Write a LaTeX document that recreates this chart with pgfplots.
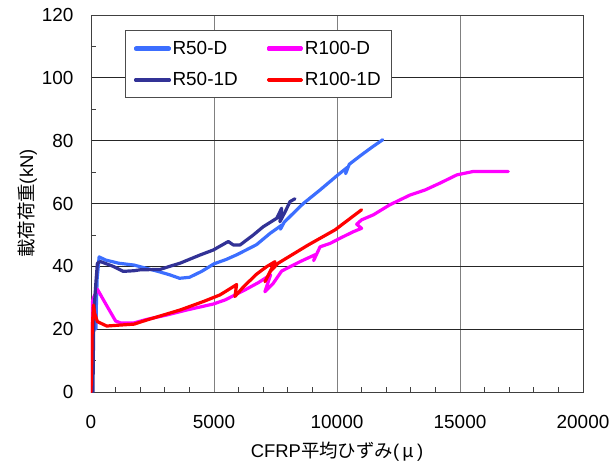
\documentclass[border=0pt]{standalone}
\usepackage{pgfplots}
\pgfplotsset{compat=1.18}
\usepackage{fontspec}
\setmainfont{Liberation Sans}
\newfontfamily\cjk{Noto Sans CJK JP}

\definecolor{rfiftyd}{RGB}{60,110,255}
\definecolor{rfiftyone}{RGB}{50,50,150}
\definecolor{rhundredd}{RGB}{255,0,255}
\definecolor{rhundredone}{RGB}{255,0,0}

\begin{document}
\begin{tikzpicture}
\begin{axis}[
  scale only axis,
  width=492bp, height=377bp,
  xmin=0, xmax=20000,
  ymin=0, ymax=120,
  xtick={0,5000,...,20000},
  ytick={0,20,...,120},
  minor x tick num=4,
  minor y tick num=1,
  tick pos=left,
  tick align=inside,
  major tick length=0pt,
  minor tick length=5bp,
  grid=major,
  x grid style={black!50, line width=0.8bp},
  y grid style={black!85, line width=0.8bp},
  axis line style={black!75, line width=0.8bp},
  minor tick style={black!75, line width=0.7bp},
  /pgf/number format/assume math mode=true,
  scaled x ticks=false,
  xticklabel style={/pgf/number format/1000 sep={}},
  ticklabel style={font=\fontsize{19}{22}\selectfont},
  xticklabel style={yshift=-20bp},
  yticklabel style={xshift=-14bp},
  xlabel={CFRP{\cjk 平均ひずみ}(\,{\cjk μ}\,)},
  ylabel={{\cjk 載荷荷重}(kN)},
  label style={font=\fontsize{18.5}{22}\selectfont},
  xlabel style={yshift=-6bp},
  ylabel style={yshift=-2bp},
  legend columns=2,
  legend cell align=left,
  legend style={at={(0.069,0.960)}, anchor=north west,
    draw=black!70, line width=0.8bp, fill=white,
    font=\fontsize{19}{22}\selectfont,
    inner xsep=9bp, inner ysep=8.5bp,
    row sep=13bp,
    /tikz/every even column/.append style={column sep=27bp}},
  legend image code/.code={%
    \fill[#1] (0bp,-0.7bp) rectangle (33bp,0.7bp);},
]
% R50-D
\addplot[rfiftyd, line width=3.2bp, line join=round, line cap=round] coordinates {
  (200,20) (220,28) (250,36) (330,43) (600,42) (1120,41) (1750,40.4)
  (2720,38.4) (3200,37.3) (3600,36.2) (4000,36.5) (4500,38.4) (5000,40.8)
  (5500,42.2) (5930,43.7) (6730,46.9) (7280,50.5) (7770,53.2) (7700,51.8)
  (7850,54) (8300,57.5) (8630,60) (9310,64.3) (10020,69) (10420,71.5)
  (10350,69.5) (10500,72.5) (11000,75.5) (11400,77.8) (11860,80.3)
};
\addlegendentry{R50-D}
% R100-D
\addplot[rhundredd, line width=3.2bp, line join=round, line cap=round] coordinates {
  (10,0) (20,18.5) (40,28) (100,30) (260,32.7) (660,27.2) (1000,22.6)
  (1200,22) (1750,22) (2260,23.1) (3080,24.5) (3890,26.1) (4970,28)
  (5450,29.3) (6260,32.5) (6800,34.8) (7300,37.3) (7070,31.9) (7400,34.5)
  (7750,38.5) (8500,41.5) (9140,43.8) (9050,41.8) (9310,46.2) (9720,47.3)
  (10190,49.2) (10660,51) (11000,52.1) (10800,53.4) (11000,54.8)
  (11480,56.4) (12150,59.6) (12970,62.7) (13580,64.3) (14190,66.5)
  (14870,69.1) (15540,70.2) (16960,70.2)
};
\addlegendentry{R100-D}
% R50-1D
\addplot[rfiftyone, line width=3.2bp, line join=round, line cap=round] coordinates {
  (80,0) (100,15) (120,25.6) (200,35) (260,41) (390,41.5) (900,40)
  (1310,38.4) (1750,38.6) (2000,38.9) (2800,39) (3200,40) (3620,41)
  (4430,43.6) (4970,45.2) (5580,47.9) (5790,46.8) (6060,46.8) (6600,50)
  (7000,52.6) (7550,55.3) (7750,58.5) (7680,54.2) (7900,57.5) (8090,60.6)
  (8290,61.5)
};
\addlegendentry{R50-1D}
% R100-1D
\addplot[rhundredone, line width=3.2bp, line join=round, line cap=round] coordinates {
  (0,0) (30,10) (50,20) (100,27.7) (150,25) (260,22.4) (640,21)
  (1180,21.3) (1750,21.6) (2260,22.9) (3620,26.1) (4570,28.8) (5240,30.9)
  (5450,31.9) (5920,34.2) (5850,30.4) (6200,33.5) (6730,37.5) (7140,39.9)
  (7480,41.5) (7070,35.1) (7300,38.5) (7610,41) (8830,46.8) (9920,51.6)
  (11000,58)
};
\addlegendentry{R100-1D}
\end{axis}
\pgfresetboundingbox
\path[use as bounding box] (-91bp,-71bp) rectangle (524bp,392bp);
\end{tikzpicture}
\end{document}
